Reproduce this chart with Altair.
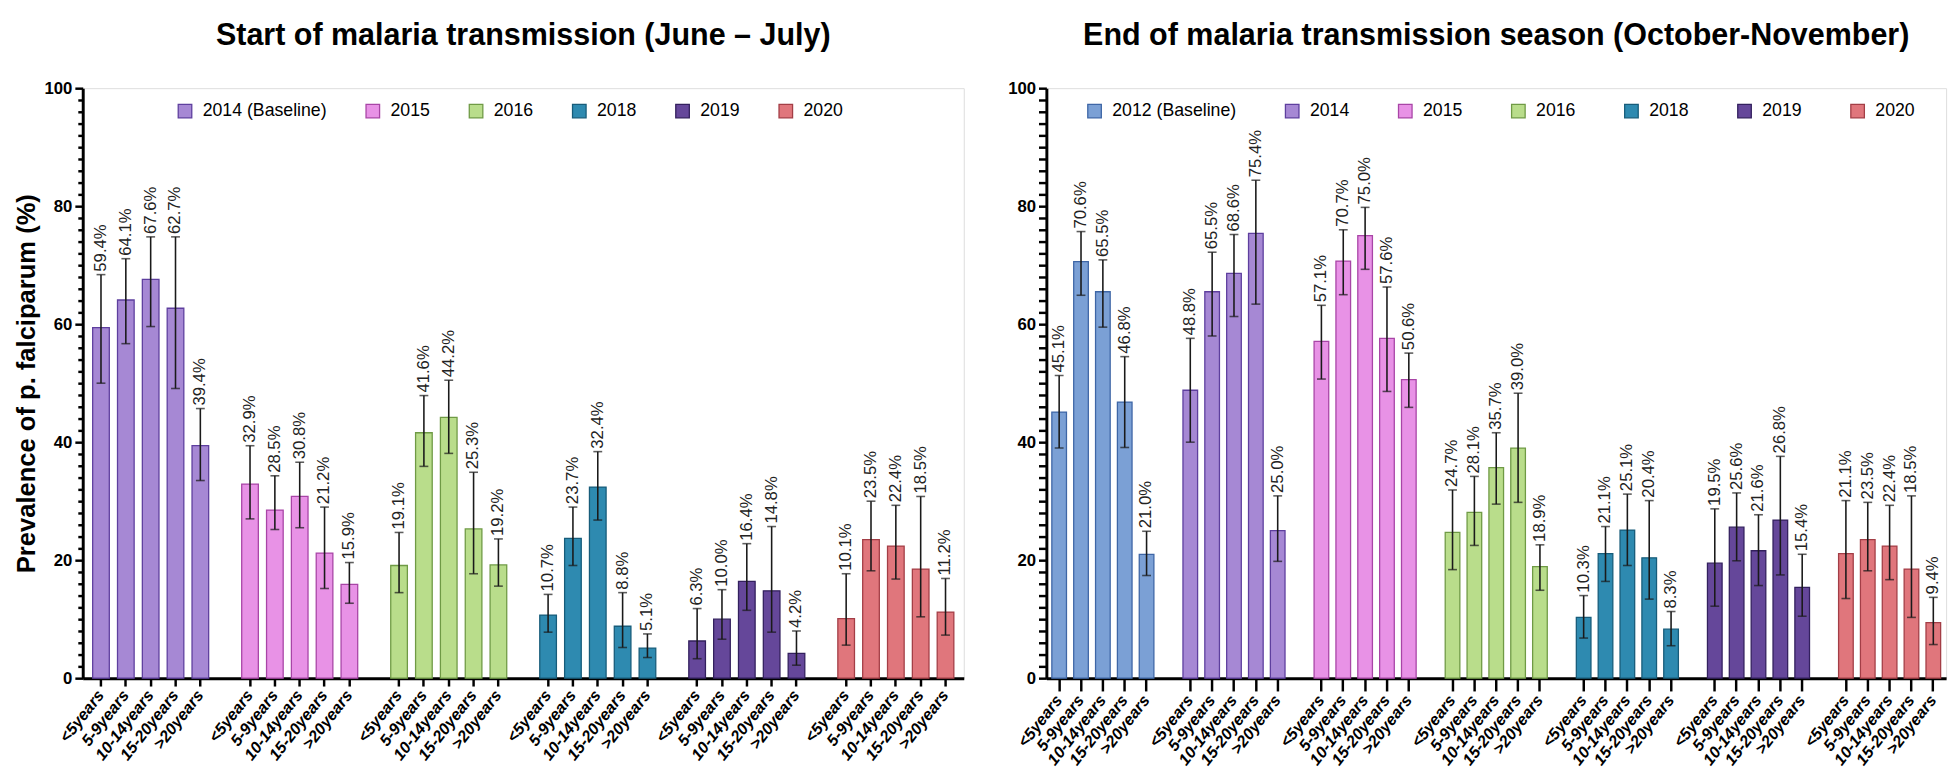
import altair as alt
import pandas as pd

ages = ["<5years", "5-9years", "10-14years", "15-20years", ">20years"]

start_years = ["2014 (Baseline)", "2015", "2016", "2018", "2019", "2020"]
start_prev = [
    [59.4, 64.1, 67.6, 62.7, 39.4],
    [32.9, 28.5, 30.8, 21.2, 15.9],
    [19.1, 41.6, 44.2, 25.3, 19.2],
    [10.7, 23.7, 32.4, 8.8, 5.1],
    [6.3, 10.0, 16.4, 14.8, 4.2],
    [10.1, 23.5, 22.4, 18.5, 11.2],
]
start_low = [
    [50.0, 56.7, 59.6, 49.1, 33.5],
    [27.0, 25.2, 25.5, 15.2, 12.7],
    [14.5, 35.9, 38.1, 17.7, 15.6],
    [7.8, 19.1, 26.8, 5.2, 3.5],
    [3.3, 6.6, 11.5, 7.8, 2.2],
    [5.6, 18.2, 16.8, 10.4, 7.3],
]
start_high = [
    [68.4, 71.1, 74.8, 74.8, 45.7],
    [39.4, 34.3, 36.6, 29.0, 19.6],
    [24.7, 47.9, 50.5, 34.9, 23.6],
    [14.2, 29.0, 38.4, 14.5, 7.5],
    [11.8, 15.0, 22.8, 25.7, 8.0],
    [17.7, 30.0, 29.3, 30.8, 16.9],
]

end_years = ["2012 (Baseline)", "2014", "2015", "2016", "2018", "2019", "2020"]
end_prev = [
    [45.1, 70.6, 65.5, 46.8, 21.0],
    [48.8, 65.5, 68.6, 75.4, 25.0],
    [57.1, 70.7, 75.0, 57.6, 50.6],
    [24.7, 28.1, 35.7, 39.0, 18.9],
    [10.3, 21.1, 25.1, 20.4, 8.3],
    [19.5, 25.6, 21.6, 26.8, 15.4],
    [21.1, 23.5, 22.4, 18.5, 9.4],
]
end_low = [
    [39.0, 64.9, 59.5, 39.1, 17.4],
    [40.0, 58.0, 61.3, 63.4, 19.8],
    [50.7, 65.0, 69.3, 48.6, 45.9],
    [18.4, 22.5, 29.5, 29.8, 14.9],
    [6.8, 16.4, 19.1, 13.4, 5.5],
    [12.2, 19.9, 15.7, 17.5, 10.5],
    [13.5, 18.2, 16.7, 10.3, 5.7],
]
end_high = [
    [51.3, 75.7, 70.9, 54.5, 24.9],
    [57.6, 72.2, 75.2, 84.4, 30.9],
    [63.2, 76.0, 79.8, 66.3, 55.1],
    [31.9, 34.2, 41.6, 48.3, 22.6],
    [14.0, 25.7, 31.2, 30.1, 11.3],
    [28.7, 31.4, 27.7, 37.6, 21.0],
    [30.1, 29.8, 29.3, 30.9, 13.7],
]

fill_colors = {
    "2012 (Baseline)": "#7BA0D5", "2014 (Baseline)": "#A688D4", "2014": "#A688D4",
    "2015": "#E892E6", "2016": "#B9DD8B", "2018": "#2E8AB0", "2019": "#65479A",
    "2020": "#E0767C",
}
stroke_colors = {
    "2012 (Baseline)": "#3E66A6", "2014 (Baseline)": "#5E3F9E", "2014": "#5E3F9E",
    "2015": "#A845A6", "2016": "#6F9A45", "2018": "#175C7A", "2019": "#33205E",
    "2020": "#A33E46",
}

FONT = "Liberation Sans Narrow, Liberation Sans, Arial, sans-serif"
FONT_W = "Liberation Sans, Arial, sans-serif"


def build(years, prev, low, high):
    rows, order, real = [], [], []
    for g, yr in enumerate(years):
        if g > 0:
            order.append(f"gap{g}")
        for i, a in enumerate(ages):
            k = f"{yr}|{a}"
            order.append(k)
            real.append(k)
            rows.append(dict(key=k, year=yr, age=a, prev=prev[g][i],
                             low=low[g][i], high=high[g][i],
                             label=f"{prev[g][i]:.1f}%"))
    return pd.DataFrame(rows), order, real


def panel(years, prev, low, high, title, width, ytitle, legx, xtick, colpad, pout):
    df, order, real = build(years, prev, low, high)
    x = alt.X("key:N", scale=alt.Scale(domain=order, paddingInner=0.33, paddingOuter=pout),
              axis=alt.Axis(values=real, labelExpr="split(datum.value, '|')[1]", title=None,
                            labelAngle=308, labelAlign="right", labelBaseline="middle",
                            labelFont=FONT_W, labelFontSize=16.5, labelFontWeight="bold",
                            labelFontStyle="italic", labelColor="black", labelOverlap=False,
                            labelPadding=6, tickSize=xtick, tickWidth=2.5, tickColor="black",
                            domainWidth=3, domainColor="black", grid=False))
    yaxis = alt.Axis(values=list(range(0, 101, 2)),
                     labelExpr="datum.value % 20 === 0 ? datum.label : ''",
                     labelOverlap=False, labelFont=FONT_W, labelFontSize=17,
                     labelFontWeight="bold", labelColor="black", labelPadding=3,
                     tickSize={"condition": {"test": "datum.value % 20 === 0", "value": 8},
                               "value": 5 if ytitle else 8},
                     tickWidth=2.5, tickColor="black", domainWidth=3, domainColor="black",
                     grid=False, title=ytitle if ytitle else None, titleFont=FONT_W,
                     titleFontSize=26, titleFontWeight="bold", titleColor="black",
                     titlePadding=5)
    yscale = alt.Scale(domain=[0, 100], nice=False)
    y = alt.Y("prev:Q", scale=yscale, axis=yaxis)
    ylo = alt.Y("low:Q", scale=yscale, axis=yaxis)
    yhi = alt.Y("high:Q", scale=yscale, axis=yaxis)
    legend = alt.Legend(orient="none", legendX=legx, legendY=14, direction="horizontal",
                        columns=len(years), title=None, symbolType="square", symbolSize=190,
                        symbolStrokeWidth=1.3, labelFont=FONT, labelFontSize=18,
                        labelColor="black", labelOffset=9, columnPadding=colpad)
    fill = alt.Fill("year:N", scale=alt.Scale(domain=years, range=[fill_colors[v] for v in years]),
                    legend=legend)
    stroke = alt.Stroke("year:N", scale=alt.Scale(domain=years, range=[stroke_colors[v] for v in years]),
                        legend=legend)
    base = alt.Chart(df)
    bars = base.mark_bar(strokeWidth=1.3).encode(x=x, y=y, fill=fill, stroke=stroke)
    err = base.mark_rule(color="#1a1a1a", strokeWidth=1.6).encode(x=x, y=ylo, y2="high:Q")
    cap_hi = base.mark_tick(color="#1a1a1a", thickness=1.6, size=9).encode(x=x, y=yhi)
    cap_lo = base.mark_tick(color="#1a1a1a", thickness=1.6, size=9).encode(x=x, y=ylo)
    txt = base.mark_text(angle=270, align="left", baseline="middle", dx=3, font=FONT,
                         fontSize=17, color="#222222").encode(x=x, y=yhi, text="label:N")
    return alt.layer(bars, err, cap_hi, cap_lo, txt).properties(
        width=width, height=600,
        title=alt.Title(title, font=FONT, fontSize=31, fontWeight="bold", color="black",
                        anchor="middle", offset=28))


left = panel(start_years, start_prev, start_low, start_high,
             "Start of malaria transmission (June \u2013 July)", 896,
             "Prevalence of p. falciparum (%)", 95, 8, 36, 0.4)
right = panel(end_years, end_prev, end_low, end_high,
              "End of malaria transmission season (October-November)", 915, None, 40, 13, 46, 0.25)

chart = alt.hconcat(left, right, spacing=43).resolve_scale(
    x="independent", fill="independent", stroke="independent"
).resolve_legend(fill="independent", stroke="independent").configure_view(
    stroke=None).configure(background="white")

chart.save("out.html", embed_options={"renderer": "svg", "actions": False})
